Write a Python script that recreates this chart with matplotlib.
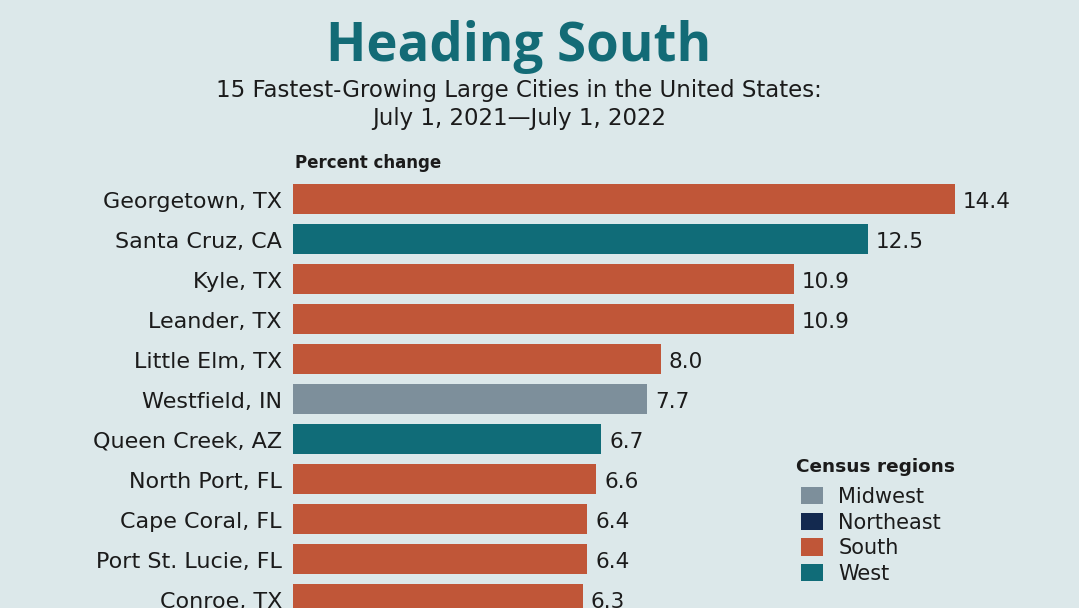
import matplotlib
matplotlib.use("Agg")
import matplotlib.pyplot as plt
from matplotlib.patches import Patch

# data (visible rows of the chart)
cities = ["Georgetown, TX", "Santa Cruz, CA", "Kyle, TX", "Leander, TX",
          "Little Elm, TX", "Westfield, IN", "Queen Creek, AZ", "North Port, FL",
          "Cape Coral, FL", "Port St. Lucie, FL", "Conroe, TX"]
pct_change = [14.4, 12.5, 10.9, 10.9, 8.0, 7.7, 6.7, 6.6, 6.4, 6.4, 6.3]
regions = ["South", "West", "South", "South", "South", "Midwest", "West",
           "South", "South", "South", "South"]

region_names = ["Midwest", "Northeast", "South", "West"]
region_colors = {"Midwest": "#7D8F9B", "Northeast": "#13294F",
                 "South": "#C05638", "West": "#106C78"}

bg = "#DCE8EA"
dark = "#1B1B1B"
teal = "#136B76"

plt.rcParams['font.family'] = ['DejaVu Sans']

W, H = 1079, 608
fig = plt.figure(figsize=(W / 100, H / 100), dpi=100)
fig.patch.set_facecolor(bg)

# axes spans full height, bars start at x=293px
left_px = 293
ax = fig.add_axes([left_px / W, 0, 1 - left_px / W, 1])
ax.set_facecolor(bg)

px_per_unit = (955 - 293) / 14.4
ax.set_xlim(0, (W - left_px) / px_per_unit)
row_px = 40.0
first_px = 199.0
ax.set_ylim((H - first_px) / row_px, -first_px / row_px)

ypos = list(range(len(cities)))
colors = [region_colors[r] for r in regions]
ax.barh(ypos, pct_change, height=0.73, color=colors)

dy = 2.5 / row_px
for y, v, name in zip(ypos, pct_change, cities):
    ax.text(v + 8 / px_per_unit, y + dy, f"{v:.1f}", va="center", ha="left",
            fontsize=15.5, color=dark)
    ax.text(-11 / px_per_unit, y + dy, name, va="center", ha="right",
            fontsize=16, color=dark, clip_on=False)

ax.axis("off")

fig.text(519 / W, 1 - 47 / H, "Heading South", ha="center", va="center",
         fontsize=38, fontweight="bold", color=teal, family="Open Sans")
fig.text(519 / W, 1 - 90 / H, "15 Fastest-Growing Large Cities in the United States:",
         ha="center", va="center", fontsize=16.5, color=dark)
fig.text(519 / W, 1 - 119 / H, "July 1, 2021\u2014July 1, 2022",
         ha="center", va="center", fontsize=16.5, color=dark)
fig.text(295 / W, 1 - 163 / H, "Percent change", ha="left", va="center",
         fontsize=12, fontweight="bold", color=dark)

# legend
fig.text(796 / W, 1 - 467 / H, "Census regions", ha="left", va="center",
         fontsize=13.3, fontweight="bold", color=dark)
handles = [Patch(facecolor=region_colors[r], label=r) for r in region_names]
leg = fig.legend(handles=handles, loc="upper left",
                 bbox_to_anchor=(801 / W, 1 - 487 / H), frameon=False,
                 borderpad=0, borderaxespad=0,
                 fontsize=15, handlelength=1.05, handleheight=0.9,
                 handletextpad=0.75, labelspacing=0.27)
for t in leg.get_texts():
    t.set_color(dark)

fig.savefig("out.png", dpi=100, facecolor=bg)
